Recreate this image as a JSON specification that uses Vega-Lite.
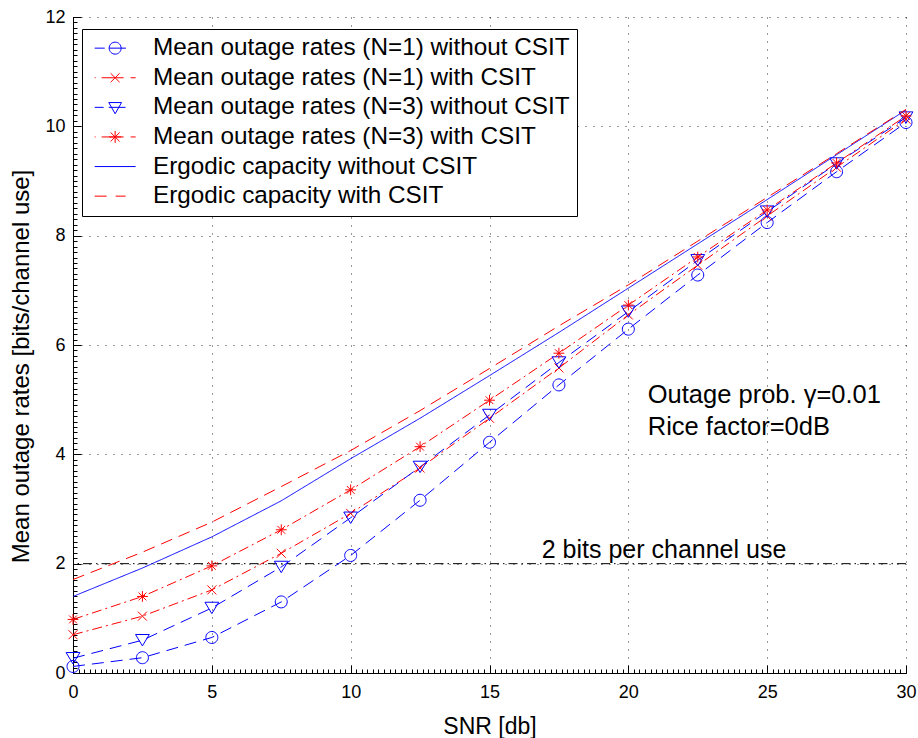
{
  "$schema": "https://vega.github.io/schema/vega-lite/v6.json",
  "width": 833,
  "height": 656,
  "autosize": {"type": "none"},
  "padding": {"left": 73, "top": 17, "right": 12, "bottom": 65},
  "background": "white",
  "config": {
    "view": {"stroke": null},
    "font": "Liberation Sans",
    "legend": {
      "labelFont": "Liberation Sans",
      "labelFontSize": 24.3,
      "labelColor": "#000000",
      "fillColor": "#ffffff",
      "strokeColor": "#000000",
      "padding": 7,
      "symbolSize": 256,
      "symbolStrokeWidth": 1,
      "symbolOpacity": 1,
      "symbolOffset": 14,
      "labelOffset": 25.7,
      "rowPadding": 4.6,
      "labelLimit": 600
    }
  },
  "datasets": {
    "outage": [
      {"series": "Mean outage rates (N=1) without CSIT", "snr": 0, "rate": 0.12},
      {"series": "Mean outage rates (N=1) without CSIT", "snr": 2.5, "rate": 0.28},
      {"series": "Mean outage rates (N=1) without CSIT", "snr": 5, "rate": 0.65},
      {"series": "Mean outage rates (N=1) without CSIT", "snr": 7.5, "rate": 1.30},
      {"series": "Mean outage rates (N=1) without CSIT", "snr": 10, "rate": 2.15},
      {"series": "Mean outage rates (N=1) without CSIT", "snr": 12.5, "rate": 3.16},
      {"series": "Mean outage rates (N=1) without CSIT", "snr": 15, "rate": 4.22},
      {"series": "Mean outage rates (N=1) without CSIT", "snr": 17.5, "rate": 5.27},
      {"series": "Mean outage rates (N=1) without CSIT", "snr": 20, "rate": 6.29},
      {"series": "Mean outage rates (N=1) without CSIT", "snr": 22.5, "rate": 7.28},
      {"series": "Mean outage rates (N=1) without CSIT", "snr": 25, "rate": 8.24},
      {"series": "Mean outage rates (N=1) without CSIT", "snr": 27.5, "rate": 9.17},
      {"series": "Mean outage rates (N=1) without CSIT", "snr": 30, "rate": 10.07},
      {"series": "Mean outage rates (N=1) with CSIT", "snr": 0, "rate": 0.70},
      {"series": "Mean outage rates (N=1) with CSIT", "snr": 2.5, "rate": 1.04},
      {"series": "Mean outage rates (N=1) with CSIT", "snr": 5, "rate": 1.52},
      {"series": "Mean outage rates (N=1) with CSIT", "snr": 7.5, "rate": 2.19},
      {"series": "Mean outage rates (N=1) with CSIT", "snr": 10, "rate": 2.92},
      {"series": "Mean outage rates (N=1) with CSIT", "snr": 12.5, "rate": 3.75},
      {"series": "Mean outage rates (N=1) with CSIT", "snr": 15, "rate": 4.66},
      {"series": "Mean outage rates (N=1) with CSIT", "snr": 17.5, "rate": 5.58},
      {"series": "Mean outage rates (N=1) with CSIT", "snr": 20, "rate": 6.55},
      {"series": "Mean outage rates (N=1) with CSIT", "snr": 22.5, "rate": 7.46},
      {"series": "Mean outage rates (N=1) with CSIT", "snr": 25, "rate": 8.36},
      {"series": "Mean outage rates (N=1) with CSIT", "snr": 27.5, "rate": 9.25},
      {"series": "Mean outage rates (N=1) with CSIT", "snr": 30, "rate": 10.13},
      {"series": "Mean outage rates (N=3) without CSIT", "snr": 0, "rate": 0.27},
      {"series": "Mean outage rates (N=3) without CSIT", "snr": 2.5, "rate": 0.60},
      {"series": "Mean outage rates (N=3) without CSIT", "snr": 5, "rate": 1.19},
      {"series": "Mean outage rates (N=3) without CSIT", "snr": 7.5, "rate": 1.94},
      {"series": "Mean outage rates (N=3) without CSIT", "snr": 10, "rate": 2.84},
      {"series": "Mean outage rates (N=3) without CSIT", "snr": 12.5, "rate": 3.77},
      {"series": "Mean outage rates (N=3) without CSIT", "snr": 15, "rate": 4.72},
      {"series": "Mean outage rates (N=3) without CSIT", "snr": 17.5, "rate": 5.68},
      {"series": "Mean outage rates (N=3) without CSIT", "snr": 20, "rate": 6.61},
      {"series": "Mean outage rates (N=3) without CSIT", "snr": 22.5, "rate": 7.55},
      {"series": "Mean outage rates (N=3) without CSIT", "snr": 25, "rate": 8.44},
      {"series": "Mean outage rates (N=3) without CSIT", "snr": 27.5, "rate": 9.32},
      {"series": "Mean outage rates (N=3) without CSIT", "snr": 30, "rate": 10.16},
      {"series": "Mean outage rates (N=3) with CSIT", "snr": 0, "rate": 0.98},
      {"series": "Mean outage rates (N=3) with CSIT", "snr": 2.5, "rate": 1.40},
      {"series": "Mean outage rates (N=3) with CSIT", "snr": 5, "rate": 1.96},
      {"series": "Mean outage rates (N=3) with CSIT", "snr": 7.5, "rate": 2.62},
      {"series": "Mean outage rates (N=3) with CSIT", "snr": 10, "rate": 3.35},
      {"series": "Mean outage rates (N=3) with CSIT", "snr": 12.5, "rate": 4.14},
      {"series": "Mean outage rates (N=3) with CSIT", "snr": 15, "rate": 4.99},
      {"series": "Mean outage rates (N=3) with CSIT", "snr": 17.5, "rate": 5.85},
      {"series": "Mean outage rates (N=3) with CSIT", "snr": 20, "rate": 6.73},
      {"series": "Mean outage rates (N=3) with CSIT", "snr": 22.5, "rate": 7.61},
      {"series": "Mean outage rates (N=3) with CSIT", "snr": 25, "rate": 8.47},
      {"series": "Mean outage rates (N=3) with CSIT", "snr": 27.5, "rate": 9.33},
      {"series": "Mean outage rates (N=3) with CSIT", "snr": 30, "rate": 10.19}
    ],
    "ergodic": [
      {"series": "Ergodic capacity without CSIT", "snr": 0, "rate": 1.40},
      {"series": "Ergodic capacity without CSIT", "snr": 2.5, "rate": 1.92},
      {"series": "Ergodic capacity without CSIT", "snr": 5, "rate": 2.49},
      {"series": "Ergodic capacity without CSIT", "snr": 7.5, "rate": 3.15},
      {"series": "Ergodic capacity without CSIT", "snr": 10, "rate": 3.92},
      {"series": "Ergodic capacity without CSIT", "snr": 12.5, "rate": 4.66},
      {"series": "Ergodic capacity without CSIT", "snr": 15, "rate": 5.44},
      {"series": "Ergodic capacity without CSIT", "snr": 17.5, "rate": 6.23},
      {"series": "Ergodic capacity without CSIT", "snr": 20, "rate": 7.04},
      {"series": "Ergodic capacity without CSIT", "snr": 22.5, "rate": 7.85},
      {"series": "Ergodic capacity without CSIT", "snr": 25, "rate": 8.66},
      {"series": "Ergodic capacity without CSIT", "snr": 27.5, "rate": 9.48},
      {"series": "Ergodic capacity without CSIT", "snr": 30, "rate": 10.30},
      {"series": "Ergodic capacity with CSIT", "snr": 0, "rate": 1.71},
      {"series": "Ergodic capacity with CSIT", "snr": 2.5, "rate": 2.21},
      {"series": "Ergodic capacity with CSIT", "snr": 5, "rate": 2.76},
      {"series": "Ergodic capacity with CSIT", "snr": 7.5, "rate": 3.41},
      {"series": "Ergodic capacity with CSIT", "snr": 10, "rate": 4.07},
      {"series": "Ergodic capacity with CSIT", "snr": 12.5, "rate": 4.80},
      {"series": "Ergodic capacity with CSIT", "snr": 15, "rate": 5.57},
      {"series": "Ergodic capacity with CSIT", "snr": 17.5, "rate": 6.35},
      {"series": "Ergodic capacity with CSIT", "snr": 20, "rate": 7.10},
      {"series": "Ergodic capacity with CSIT", "snr": 22.5, "rate": 7.90},
      {"series": "Ergodic capacity with CSIT", "snr": 25, "rate": 8.70},
      {"series": "Ergodic capacity with CSIT", "snr": 27.5, "rate": 9.50},
      {"series": "Ergodic capacity with CSIT", "snr": 30, "rate": 10.31}
    ],
    "legend": [
      {"label": "Mean outage rates (N=1) without CSIT"},
      {"label": "Mean outage rates (N=1) with CSIT"},
      {"label": "Mean outage rates (N=3) without CSIT"},
      {"label": "Mean outage rates (N=3) with CSIT"},
      {"label": "Ergodic capacity without CSIT"},
      {"label": "Ergodic capacity with CSIT"}
    ]
  },
  "resolve": {
    "scale": {"color": "independent", "shape": "independent", "strokeDash": "independent"},
    "axis": {"x": "independent", "y": "independent"}
  },
  "layer": [
    {
      "data": {"values": [{}]},
      "mark": {"type": "rule", "color": "#000000", "strokeWidth": 1, "strokeDash": [9, 4, 1.5, 4]},
      "encoding": {
        "y": {"datum": 2, "type": "quantitative", "scale": {"domain": [0, 12], "nice": false}, "axis": null}
      }
    },
    {
      "data": {"name": "outage"},
      "mark": {"type": "line", "strokeWidth": 1},
      "encoding": {
        "x": {"field": "snr", "type": "quantitative", "scale": {"domain": [0, 30], "nice": false},
          "axis": {"orient": "bottom", "tickCount": 150, "labels": false, "grid": false, "domain": false, "tickSize": -4, "tickColor": "#000000", "tickWidth": 1, "title": null}},
        "y": {"field": "rate", "type": "quantitative", "scale": {"domain": [0, 12], "nice": false},
          "axis": {"orient": "left", "tickCount": 120, "labels": false, "grid": false, "domain": false, "tickSize": -4, "tickColor": "#000000", "tickWidth": 1, "title": null}},
        "color": {"field": "series", "type": "nominal", "legend": null,
          "scale": {"domain": ["Mean outage rates (N=1) without CSIT", "Mean outage rates (N=1) with CSIT", "Mean outage rates (N=3) without CSIT", "Mean outage rates (N=3) with CSIT"],
            "range": ["#0000ff", "#ff0000", "#0000ff", "#ff0000"]}},
        "strokeDash": {"field": "series", "type": "nominal", "legend": null,
          "scale": {"domain": ["Mean outage rates (N=1) without CSIT", "Mean outage rates (N=1) with CSIT", "Mean outage rates (N=3) without CSIT", "Mean outage rates (N=3) with CSIT"],
            "range": [[12, 7], [10, 4, 2, 4], [12, 7], [10, 4, 2, 4]]}}
      }
    },
    {
      "data": {"name": "outage"},
      "mark": {"type": "point", "filled": false, "strokeWidth": 1, "size": 144, "opacity": 1},
      "encoding": {
        "x": {"field": "snr", "type": "quantitative", "scale": {"domain": [0, 30], "nice": false}, "axis": null},
        "y": {"field": "rate", "type": "quantitative", "scale": {"domain": [0, 12], "nice": false}, "axis": null},
        "color": {"field": "series", "type": "nominal", "legend": null,
          "scale": {"domain": ["Mean outage rates (N=1) without CSIT", "Mean outage rates (N=1) with CSIT", "Mean outage rates (N=3) without CSIT", "Mean outage rates (N=3) with CSIT"],
            "range": ["#0000ff", "#ff0000", "#0000ff", "#ff0000"]}},
        "shape": {"field": "series", "type": "nominal", "legend": null,
          "scale": {"domain": ["Mean outage rates (N=1) without CSIT", "Mean outage rates (N=1) with CSIT", "Mean outage rates (N=3) without CSIT", "Mean outage rates (N=3) with CSIT"],
            "range": [
              "M1,0A1,1,0,1,1,-1,0A1,1,0,1,1,1,0Z",
              "M-0.75,-0.75L0.75,0.75M-0.75,0.75L0.75,-0.75",
              "M-1.15,-0.95L1.15,-0.95L0,0.95Z",
              "M-0.65,-0.65L0.65,0.65M-0.65,0.65L0.65,-0.65M0,-0.9V0.9M-0.9,0H0.9"
            ]}}
      }
    },
    {
      "data": {"name": "ergodic"},
      "mark": {"type": "line", "strokeWidth": 1},
      "encoding": {
        "x": {"field": "snr", "type": "quantitative", "scale": {"domain": [0, 30], "nice": false},
          "axis": {"orient": "bottom", "values": [0, 5, 10, 15, 20, 25, 30], "grid": true, "gridDash": [1, 7], "gridColor": "#000000", "gridOpacity": 0.8, "gridWidth": 1,
            "domain": true, "domainColor": "#000000", "domainWidth": 1, "tickSize": -8, "tickColor": "#000000", "tickWidth": 1,
            "labelFont": "Liberation Sans", "labelFontSize": 18, "labelColor": "#000000", "labelPadding": 18, "labelFlush": false, "labelOverlap": false,
            "title": "SNR [db]", "titleFont": "Liberation Sans", "titleFontSize": 23, "titleFontWeight": "normal", "titleColor": "#000000",
            "titleY": 60, "titleBaseline": "alphabetic", "titleAnchor": "middle"}},
        "y": {"field": "rate", "type": "quantitative", "scale": {"domain": [0, 12], "nice": false},
          "axis": {"orient": "left", "values": [0, 2, 4, 6, 8, 10, 12], "grid": true, "gridDash": [1, 7], "gridColor": "#000000", "gridOpacity": 0.8, "gridWidth": 1,
            "domain": true, "domainColor": "#000000", "domainWidth": 1, "tickSize": -8, "tickColor": "#000000", "tickWidth": 1,
            "labelFont": "Liberation Sans", "labelFontSize": 18, "labelColor": "#000000", "labelPadding": 16, "labelFlush": false, "labelOverlap": false,
            "title": "Mean outage rates [bits/channel use]", "titleFont": "Liberation Sans", "titleFontSize": 24, "titleFontWeight": "normal", "titleColor": "#000000",
            "titleX": -45, "titleY": 349, "titleAngle": 270, "titleBaseline": "alphabetic", "titleAlign": "center"}},
        "color": {"field": "series", "type": "nominal", "legend": null,
          "scale": {"domain": ["Ergodic capacity without CSIT", "Ergodic capacity with CSIT"], "range": ["#0000ff", "#ff0000"]}},
        "strokeDash": {"field": "series", "type": "nominal", "legend": null,
          "scale": {"domain": ["Ergodic capacity without CSIT", "Ergodic capacity with CSIT"], "range": [[1, 0], [12, 7]]}}
      }
    },
    {
      "data": {"values": [{}]},
      "mark": {"type": "text", "align": "left", "baseline": "alphabetic", "font": "Liberation Sans", "fontSize": 25, "color": "#000000"},
      "encoding": {
        "x": {"datum": 16.88, "type": "quantitative", "scale": {"domain": [0, 30], "nice": false}, "axis": null},
        "y": {"datum": 2.1, "type": "quantitative", "scale": {"domain": [0, 12], "nice": false}, "axis": null},
        "text": {"value": "2 bits per channel use"}
      }
    },
    {
      "data": {"values": [{}]},
      "mark": {"type": "text", "align": "left", "baseline": "alphabetic", "font": "Liberation Sans", "fontSize": 25.5, "color": "#000000"},
      "encoding": {
        "x": {"datum": 20.7, "type": "quantitative", "scale": {"domain": [0, 30], "nice": false}, "axis": null},
        "y": {"datum": 4.94, "type": "quantitative", "scale": {"domain": [0, 12], "nice": false}, "axis": null},
        "text": {"value": "Outage prob. γ=0.01"}
      }
    },
    {
      "data": {"values": [{}]},
      "mark": {"type": "text", "align": "left", "baseline": "alphabetic", "font": "Liberation Sans", "fontSize": 25.5, "color": "#000000"},
      "encoding": {
        "x": {"datum": 20.7, "type": "quantitative", "scale": {"domain": [0, 30], "nice": false}, "axis": null},
        "y": {"datum": 4.35, "type": "quantitative", "scale": {"domain": [0, 12], "nice": false}, "axis": null},
        "text": {"value": "Rice factor=0dB"}
      }
    },
    {
      "data": {"name": "legend"},
      "transform": [{"filter": "false"}],
      "mark": {"type": "point", "filled": false, "strokeWidth": 1, "opacity": 1},
      "encoding": {
        "color": {"field": "label", "type": "nominal",
          "scale": {"domain": ["Mean outage rates (N=1) without CSIT", "Mean outage rates (N=1) with CSIT", "Mean outage rates (N=3) without CSIT", "Mean outage rates (N=3) with CSIT", "Ergodic capacity without CSIT", "Ergodic capacity with CSIT"],
            "range": ["#0000ff", "#ff0000", "#0000ff", "#ff0000", "#0000ff", "#ff0000"]},
          "legend": {"title": null, "orient": "none", "legendX": 9, "legendY": 12}},
        "shape": {"field": "label", "type": "nominal",
          "scale": {"domain": ["Mean outage rates (N=1) without CSIT", "Mean outage rates (N=1) with CSIT", "Mean outage rates (N=3) without CSIT", "Mean outage rates (N=3) with CSIT", "Ergodic capacity without CSIT", "Ergodic capacity with CSIT"],
            "range": [
              "M-2.56,0H-1.3M-0.75,0H1.35M0.75,0A0.75,0.75,0,1,1,-0.75,0A0.75,0.75,0,1,1,0.75,0",
              "M-2.56,0H-2.44M-1.69,0H1.06M1.94,0H2.56M-0.56,-0.56L0.56,0.56M-0.56,0.56L0.56,-0.56",
              "M-2.56,0H-1.44M-0.8,0H1.3M-0.8,-0.6L0.8,-0.6L0,0.8Z",
              "M-2.56,0H-2.44M-1.69,0H1.06M1.94,0H2.56M-0.56,-0.56L0.56,0.56M-0.56,0.56L0.56,-0.56M0,-0.75V0.75M-0.75,0H0.75",
              "M-2.56,0H2.56",
              "M-2.56,0H-1.06M0.06,0H1.31"
            ]},
          "legend": {"title": null, "orient": "none", "legendX": 9, "legendY": 12}}
      }
    }
  ]
}
